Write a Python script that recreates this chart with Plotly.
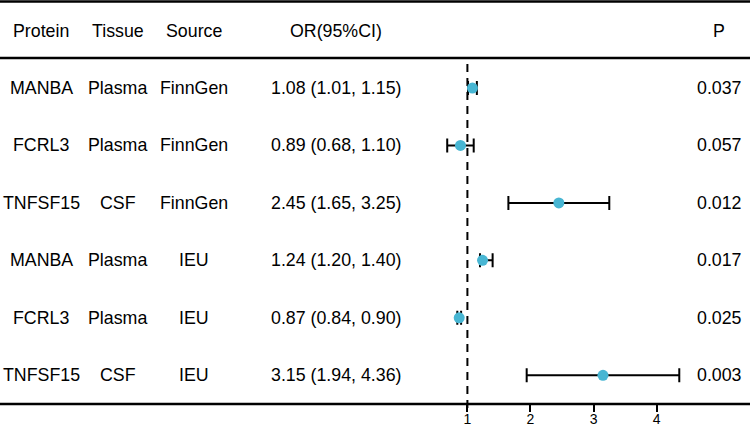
import plotly.graph_objects as go

proteins = ["MANBA", "FCRL3", "TNFSF15", "MANBA", "FCRL3", "TNFSF15"]
tissues = ["Plasma", "Plasma", "CSF", "Plasma", "Plasma", "CSF"]
sources = ["FinnGen", "FinnGen", "FinnGen", "IEU", "IEU", "IEU"]
or_vals = [1.08, 0.89, 2.45, 1.24, 0.87, 3.15]
ci_lo = [1.01, 0.68, 1.65, 1.20, 0.84, 1.94]
ci_hi = [1.15, 1.10, 3.25, 1.40, 0.90, 4.36]
p_vals = ["0.037", "0.057", "0.012", "0.017", "0.025", "0.003"]
headers = ["Protein", "Tissue", "Source", "OR(95%CI)", "P"]
x_ticks = [1, 2, 3, 4]

W, H = 750, 426
FONT = "Liberation Sans, Arial, sans-serif"
FS = 17.8
col_x = [41, 117.5, 194, 336, 719]  # pixel centres of text columns

rows = list(range(len(proteins)))
or_text = [f"{o:.2f} ({l:.2f}, {h:.2f})" for o, l, h in zip(or_vals, ci_lo, ci_hi)]

fig = go.Figure()
fig.add_trace(go.Scatter(
    x=or_vals, y=rows, mode="markers",
    marker=dict(color="#48B6D3", size=11, line=dict(width=0)),
    error_x=dict(type="data", symmetric=False,
                 array=[h - o for h, o in zip(ci_hi, or_vals)],
                 arrayminus=[o - l for o, l in zip(or_vals, ci_lo)],
                 color="black", thickness=2, width=7),
    showlegend=False, hoverinfo="skip",
))

annotations = []
for hx, htxt in zip(col_x, headers):
    annotations.append(dict(x=hx / W, y=-1, xref="paper", yref="y", text=htxt,
                            showarrow=False, xanchor="center", yanchor="middle",
                            font=dict(size=FS, color="black", family=FONT)))
for i in rows:
    for cx, txt in zip(col_x, [proteins[i], tissues[i], sources[i], or_text[i], p_vals[i]]):
        annotations.append(dict(x=cx / W, y=i, xref="paper", yref="y", text=txt,
                                showarrow=False, xanchor="center", yanchor="middle",
                                font=dict(size=FS, color="black", family=FONT)))

px_per_unit = 63.06
x1_px = 467.4
dom_l, dom_r = 420, 690
xr = [1 - (x1_px - dom_l) / px_per_unit, 1 + (dom_r - x1_px) / px_per_unit]

y_bottom_px = 404
ydom0 = (H - y_bottom_px) / H
shapes = [
    dict(type="line", xref="paper", yref="paper", x0=0, x1=1, y0=1 - 1.5 / H, y1=1 - 1.5 / H,
         line=dict(color="black", width=2.5)),
    dict(type="line", xref="paper", yref="paper", x0=0, x1=1, y0=1 - 58 / H, y1=1 - 58 / H,
         line=dict(color="black", width=2.5)),
    dict(type="line", xref="paper", yref="paper", x0=0, x1=1, y0=ydom0, y1=ydom0,
         line=dict(color="black", width=2.5)),
    dict(type="line", xref="x", yref="paper", x0=1, x1=1, y0=ydom0 - 4 / H, y1=1 - 58 / H,
         line=dict(color="black", width=2, dash="8px,6px"), layer="below"),
]

fig.update_layout(
    width=W, height=H, margin=dict(l=0, r=0, t=0, b=0, autoexpand=False),
    paper_bgcolor="white", plot_bgcolor="white",
    font=dict(family=FONT, color="black"),
    xaxis=dict(domain=[dom_l / W, dom_r / W], range=xr, tickvals=x_ticks,
               automargin=False,
               showgrid=False, zeroline=False, showline=False,
               ticks="outside", ticklen=7, tickwidth=2, tickcolor="black",
               ticklabelstandoff=-5,
               tickfont=dict(size=14, color="black", family=FONT)),
    yaxis=dict(domain=[ydom0, 1], range=[5.5, -88 / 57.44], automargin=False,
               visible=False, showgrid=False, zeroline=False),
    annotations=annotations, shapes=shapes,
)

fig.write_html("out.html")
